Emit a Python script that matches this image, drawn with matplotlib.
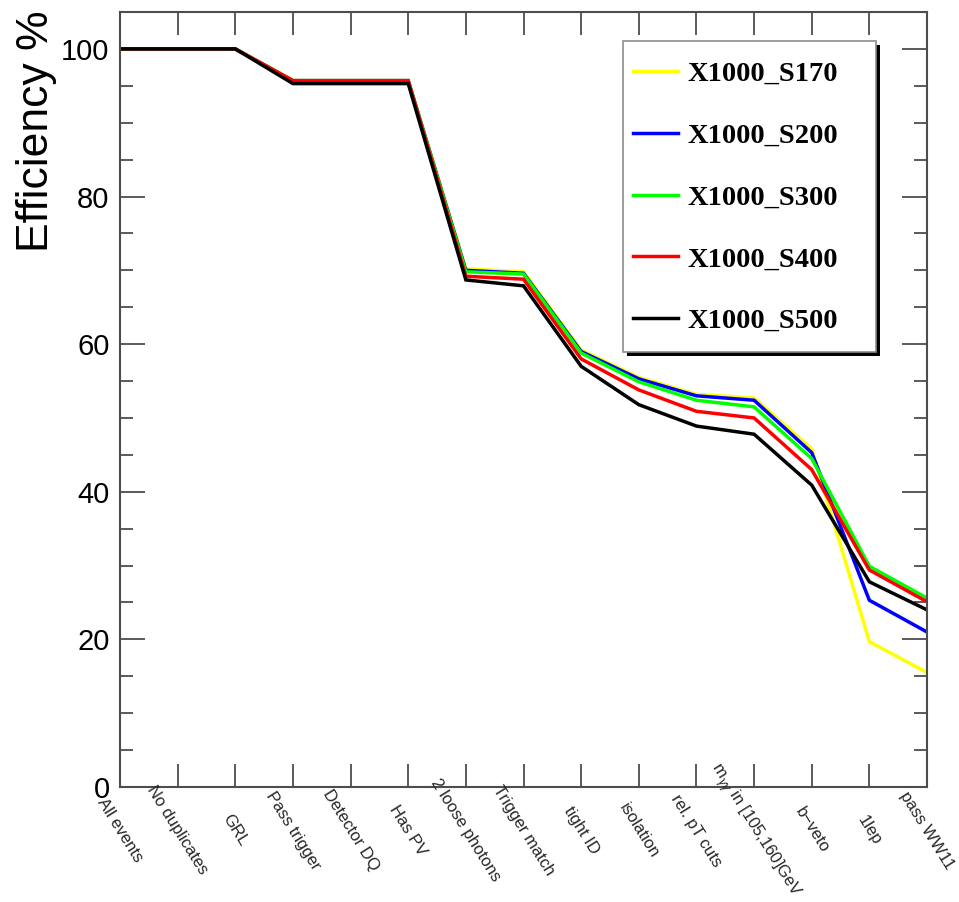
import matplotlib

matplotlib.use("Agg")
import matplotlib.pyplot as plt
from matplotlib.patches import Rectangle
from matplotlib.ticker import FixedLocator, MultipleLocator

# cut-flow steps along the x axis
CUTS = [
    "All events",
    "No duplicates",
    "GRL",
    "Pass trigger",
    "Detector DQ",
    "Has PV",
    "2 loose photons",
    "Trigger match",
    "tight ID",
    "isolation",
    "rel. pT cuts",
    r"m$_{\gamma\gamma}$ in [105,160]GeV",
    "b\u2212veto",
    "1lep",
    "pass WW11",
]

SAMPLES = ["X1000_S170", "X1000_S200", "X1000_S300", "X1000_S400", "X1000_S500"]
COLORS = ["#ffff00", "#0000ff", "#00ff00", "#ff0000", "#000000"]

# cumulative efficiency (%) after each cut
EFF_S170 = [100, 100, 100, 95.7, 95.7, 95.7, 70.2, 69.8, 59.2, 55.5, 53.2, 52.7, 45.8, 19.7, 15.5]
EFF_S200 = [100, 100, 100, 95.7, 95.7, 95.7, 70.0, 69.6, 59.0, 55.3, 53.0, 52.4, 45.3, 25.3, 21.0]
EFF_S300 = [100, 100, 100, 95.7, 95.7, 95.7, 69.8, 69.5, 58.8, 54.9, 52.4, 51.5, 44.5, 29.9, 25.6]
EFF_S400 = [100, 100, 100, 95.7, 95.7, 95.7, 69.2, 68.8, 58.0, 53.8, 50.9, 50.0, 43.0, 29.4, 25.1]
EFF_S500 = [100, 100, 100, 95.3, 95.3, 95.3, 68.7, 67.9, 57.0, 51.8, 48.9, 47.8, 40.9, 27.8, 24.0]
EFFS = [EFF_S170, EFF_S200, EFF_S300, EFF_S400, EFF_S500]

SANS = "Liberation Sans"
SERIF = "Liberation Serif"
FRAME = "0.3"

fig = plt.figure(figsize=(9.59, 9.02), dpi=100)
ax = fig.add_axes([120 / 959, 1 - 787 / 902, 807 / 959, 775 / 902])

x = list(range(len(CUTS)))
for name, color, eff in zip(SAMPLES, COLORS, EFFS):
    ax.plot(x, eff, color=color, lw=2.5, label=name, solid_joinstyle="miter")

ax.set_xlim(0, len(CUTS) - 1)
ax.set_ylim(0, 105)

# ROOT-like frame: ticks inside on all four sides
for spine in ax.spines.values():
    spine.set_color(FRAME)
    spine.set_linewidth(1.5)
ax.xaxis.set_major_locator(FixedLocator(x))
ax.yaxis.set_major_locator(MultipleLocator(20))
ax.yaxis.set_minor_locator(MultipleLocator(5))
ax.tick_params(axis="both", which="both", direction="in", top=True, right=True,
               color=FRAME, width=1.3)
ax.tick_params(axis="x", which="major", length=16.5, labelbottom=False)
ax.tick_params(axis="y", which="major", length=18, pad=7.5, labelsize=21)
ax.tick_params(axis="y", which="minor", length=9.5)
for lab in ax.get_yticklabels():
    lab.set_fontfamily(SANS)

# rotated cut names centred under each tick
for xi, name in zip(x, CUTS):
    ax.text(xi, -0.056, name, transform=ax.get_xaxis_transform(),
            rotation=-58, rotation_mode="anchor", ha="center", va="center",
            fontsize=12, family=SANS, color="0.15")

fig.text(37 / 959, 1 - 10 / 902, "Efficiency %", rotation=90, ha="center", va="top",
         fontsize=32, family=SANS)

# legend box with a hard black drop shadow, drawn by hand
box_x, box_y, box_w, box_h = 0.6233, 0.5613, 0.3135, 0.4013
ax.add_patch(Rectangle((box_x + 0.005, box_y - 0.005), box_w, box_h,
                       transform=ax.transAxes, facecolor="black", edgecolor="none",
                       zorder=5))
ax.add_patch(Rectangle((box_x, box_y), box_w, box_h, transform=ax.transAxes,
                       facecolor="white", edgecolor="0.55", lw=1.2, zorder=6))

leg = ax.legend(
    loc="upper left",
    bbox_to_anchor=(0.6357, 0.9368),
    prop={"family": SERIF, "weight": "bold", "size": 20.5},
    handlelength=1.58,
    handletextpad=0.32,
    borderpad=0,
    labelspacing=1.26,
    borderaxespad=0,
    frameon=False,
)
leg.set_zorder(7)
for h in leg.get_lines():
    h.set_linewidth(2.5)

fig.savefig("out.png", dpi=100)
